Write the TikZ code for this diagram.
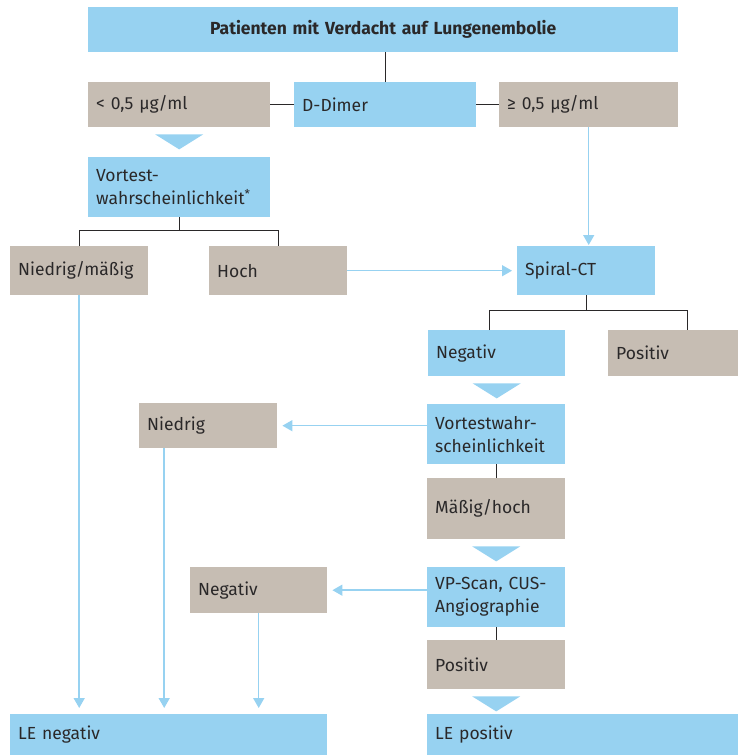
\documentclass[tikz,border=0pt]{standalone}
\usepackage{fontspec}
\setmainfont{Fira Sans}
\usepackage{tikz}
\usetikzlibrary{arrows.meta,calc,positioning}
\definecolor{cblue}{HTML}{97D2F1}
\definecolor{ctan}{HTML}{C6BDB3}
\definecolor{ctext}{HTML}{2A2829}
\tikzset{
  base/.style={anchor=north west,inner xsep=8pt,inner ysep=0pt,align=left,
    font=\fontsize{17.5}{23}\selectfont,text=ctext},
  bluebox/.style 2 args={base,fill=cblue,text width=#1,minimum height=#2},
  tanbox/.style 2 args={base,fill=ctan,text width=#1,minimum height=#2},
  link/.style={draw=ctext,line width=1pt},
  flow/.style={draw=cblue,line width=1.5pt,-{Triangle[width=11pt,length=10pt]},shorten >=5pt}
}

\begin{document}
\begin{tikzpicture}[x=1pt,y=-1pt]
\useasboundingbox (0,0) rectangle (738,755);
% top row
\node[bluebox={574pt}{45pt},align=center,font=\fontsize{17.5}{23}\selectfont\bfseries] (title) at (88,7) {Patienten mit Verdacht auf Lungenembolie};
\node[tanbox={166pt}{45pt}] (lowdd) at (88,82) {< 0,5 µg/ml};
\node[bluebox={166pt}{45pt}] (dimer) at (294,82) {D-Dimer};
\node[tanbox={163pt}{45pt}] (highdd) at (499,82) {≥ 0,5 µg/ml};
% left branch
\node[bluebox={166pt}{60pt}] (vtw1) at (88,157) {Vortest-\\wahrscheinlichkeit\textsuperscript{*}};
\node[tanbox={122pt}{49pt}] (nm) at (10,246) {Niedrig/mäßig};
\node[tanbox={122pt}{49pt}] (hoch) at (209,246) {Hoch};
% spiral CT branch
\node[bluebox={122pt}{49pt}] (ct) at (517,246) {Spiral-CT};
\node[bluebox={121pt}{46pt}] (ctneg) at (428,330) {Negativ};
\node[tanbox={114pt}{46pt}] (ctpos) at (608,330) {Positiv};
\node[bluebox={122pt}{60pt}] (vtw2) at (427,404) {Vortestwahr-\\scheinlichkeit};
\node[tanbox={122pt}{45pt}] (niedrig) at (139,403) {Niedrig};
\node[tanbox={122pt}{61pt}] (mh) at (427,478) {Mäßig/hoch};
\node[bluebox={122pt}{60pt}] (vp) at (427,567) {VP-Scan, CUS-\\Angiographie};
\node[tanbox={121pt}{46pt}] (vpneg) at (190,567) {Negativ};
\node[tanbox={122pt}{49pt}] (vppos) at (427,640) {Positiv};
% results
\node[bluebox={301pt}{41pt}] (leneg) at (10,714) {LE negativ};
\node[bluebox={295pt}{41pt}] (lepos) at (427,714) {LE positiv};
% black connectors
\draw[link] (dimer.north) -- (dimer.north |- title.south);
\draw[link] (dimer.west) -- (lowdd.east);
\draw[link] (dimer.east) -- (highdd.east -| highdd.west);
\draw[link] (vtw1.south) -- ++(0,13);
\draw[link] (nm.north) |- ($(vtw1.south)+(0,13)$) -| (hoch.north);
\draw[link] (ct.south) -- ++(0,15);
\draw[link] ([xshift=-7pt]ctneg.north) |- ($(ct.south)+(0,15)$) -| ([xshift=14pt]ctpos.north);
\draw[link] (vtw2.south) -- (mh.north);
\draw[link] (vp.south) -- (vppos.north);
% blue arrows
\draw[flow] (hoch.east) -- (ct.west);
\draw[flow,shorten >=1pt] (highdd.south) -- (highdd.south |- ct.north);
\draw[flow] (vtw2.west |- niedrig.east) -- (niedrig.east);
\draw[flow] (vp.west |- vpneg.east) -- (vpneg.east);
\draw[flow,shorten >=6pt] (nm.south) -- (nm.south |- leneg.north);
\draw[flow,shorten >=6pt] ([xshift=-44pt]niedrig.south) -- ([xshift=-44pt]niedrig.south |- leneg.north);
\draw[flow,shorten >=6pt] (vpneg.south) -- (vpneg.south |- leneg.north);
% wide arrow heads between boxes
\foreach \n in {lowdd,ctneg,mh,vppos}
  {\fill[cblue] ([xshift=-24pt,yshift=-7pt]\n.south) -- ++(48,0) -- ++(-24,15) -- cycle;}
\end{tikzpicture}
\end{document}
